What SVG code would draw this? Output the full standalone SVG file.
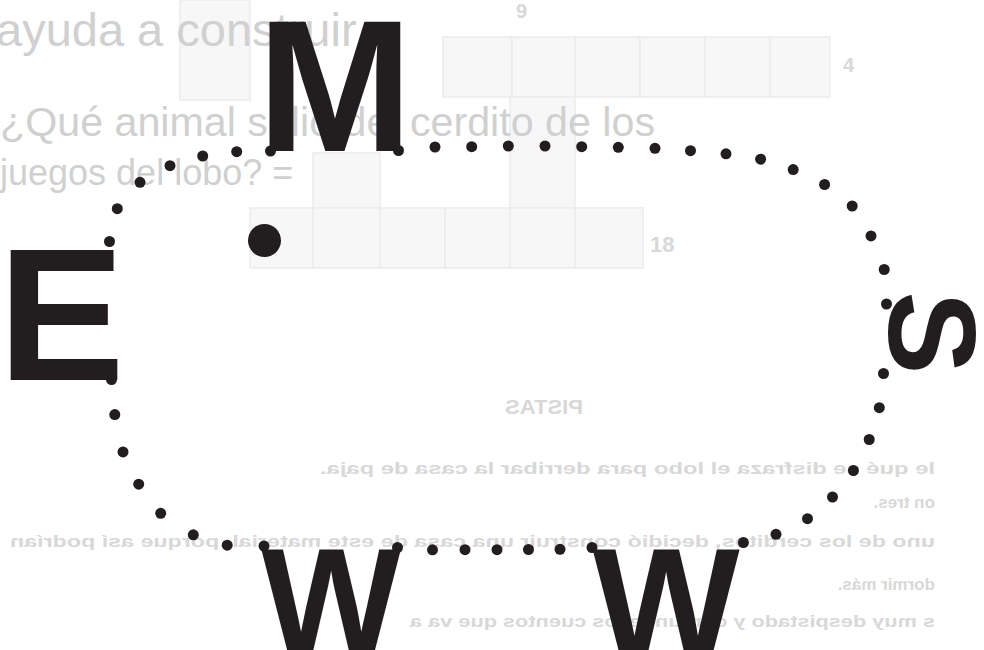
<svg xmlns="http://www.w3.org/2000/svg" width="984" height="650" viewBox="0 0 984 650">
<style>
.L{font-family:"Liberation Sans",Arial,Helvetica,sans-serif;font-weight:bold;fill:#221e1f}
.d{fill:#221e1f}
.bt{font-family:"Liberation Sans",Arial,sans-serif;fill:#d0d0d0}
.bb{font-family:"Liberation Sans",Arial,sans-serif;font-weight:bold;fill:#d8d8d8}
.g{fill:#f7f7f7;stroke:#ececec;stroke-width:1.5}
</style>
<rect width="984" height="650" fill="#ffffff"/>
<g id="bleed-through">
  <rect class="g" x="180" y="0" width="70" height="100"/>
  <rect class="g" x="443" y="37" width="69" height="60"/>
  <rect class="g" x="512" y="37" width="63" height="60"/>
  <rect class="g" x="575" y="37" width="65" height="60"/>
  <rect class="g" x="640" y="37" width="65" height="60"/>
  <rect class="g" x="705" y="37" width="65" height="60"/>
  <rect class="g" x="770" y="37" width="60" height="60"/>
  <rect class="g" x="510" y="97" width="65" height="111"/>
  <rect class="g" x="313" y="153" width="67" height="55"/>
  <rect class="g" x="250" y="208" width="63" height="60"/>
  <rect class="g" x="313" y="208" width="67" height="60"/>
  <rect class="g" x="380" y="208" width="65" height="60"/>
  <rect class="g" x="445" y="208" width="65" height="60"/>
  <rect class="g" x="510" y="208" width="65" height="60"/>
  <rect class="g" x="575" y="208" width="68" height="60"/>
  <text class="bt" x="-4" y="46" font-size="47">ayuda a construir</text>
  <text class="bt" x="0" y="136" font-size="40" textLength="655" lengthAdjust="spacingAndGlyphs">¿Qué animal salió del cerdito de los</text>
  <text class="bt" x="0" y="185" font-size="36">juegos del lobo? =</text>
  <text class="bb" x="516" y="18" font-size="20">9</text>
  <text class="bb" x="843" y="72" font-size="20">4</text>
  <text class="bb" x="650" y="252" font-size="22">18</text>
  <g transform="scale(-1,1)">
    <text class="bb" x="-583" y="414" font-size="20" textLength="78" lengthAdjust="spacingAndGlyphs">PISTAS</text>
    <text class="bb" x="-935" y="474" font-size="17" textLength="615" lengthAdjust="spacingAndGlyphs">le qué se disfraza el lobo para derribar la casa de paja.</text>
    <text class="bb" x="-935" y="508" font-size="17">on tres.</text>
    <text class="bb" x="-935" y="547" font-size="17" textLength="925" lengthAdjust="spacingAndGlyphs">uno de los cerditos, decidió construir una casa de este material, porque así podrían</text>
    <text class="bb" x="-935" y="590" font-size="17">dormir más.</text>
    <text class="bb" x="-935" y="627" font-size="17" textLength="525" lengthAdjust="spacingAndGlyphs">s muy despistado y confunde los cuentos que va a</text>
  </g>
</g>
<g id="dotted-oval">
  <circle class="d" r="5.5" cx="109.5" cy="241.5"/>
  <circle class="d" r="5.5" cx="117.3" cy="208.7"/>
  <circle class="d" r="5.5" cx="140" cy="182.3"/>
  <circle class="d" r="5.5" cx="170" cy="165.7"/>
  <circle class="d" r="5.5" cx="202.7" cy="156"/>
  <circle class="d" r="5.5" cx="236.7" cy="151.7"/>
  <circle class="d" r="5.5" cx="270.5" cy="151"/>
  <circle class="d" r="5.5" cx="398.5" cy="150.5"/>
  <circle class="d" r="5.5" cx="435" cy="147"/>
  <circle class="d" r="5.5" cx="471.7" cy="146.7"/>
  <circle class="d" r="5.5" cx="508.3" cy="146"/>
  <circle class="d" r="5.5" cx="545" cy="146"/>
  <circle class="d" r="5.5" cx="581.7" cy="146.7"/>
  <circle class="d" r="5.5" cx="618.3" cy="147.3"/>
  <circle class="d" r="5.5" cx="655" cy="148.3"/>
  <circle class="d" r="5.5" cx="690.5" cy="150.7"/>
  <circle class="d" r="5.5" cx="726" cy="153.8"/>
  <circle class="d" r="5.5" cx="760.6" cy="159.2"/>
  <circle class="d" r="5.5" cx="793.2" cy="169.6"/>
  <circle class="d" r="5.5" cx="824.6" cy="184.5"/>
  <circle class="d" r="5.5" cx="852.2" cy="206"/>
  <circle class="d" r="5.5" cx="871" cy="235.9"/>
  <circle class="d" r="5.5" cx="884.2" cy="269.5"/>
  <circle class="d" r="5.5" cx="886.5" cy="304"/>
  <circle class="d" r="5.5" cx="883.5" cy="373.5"/>
  <circle class="d" r="5.5" cx="879.3" cy="407.7"/>
  <circle class="d" r="5.5" cx="869.2" cy="439.5"/>
  <circle class="d" r="5.5" cx="853.4" cy="470.5"/>
  <circle class="d" r="5.5" cx="832.5" cy="497"/>
  <circle class="d" r="5.5" cx="807.5" cy="518.7"/>
  <circle class="d" r="5.5" cx="776" cy="534.3"/>
  <circle class="d" r="5.5" cx="743.4" cy="542.5"/>
  <circle class="d" r="5.5" cx="592" cy="547.5"/>
  <circle class="d" r="5.5" cx="560" cy="549.3"/>
  <circle class="d" r="5.5" cx="528.5" cy="549.5"/>
  <circle class="d" r="5.5" cx="497" cy="549.7"/>
  <circle class="d" r="5.5" cx="465" cy="549.7"/>
  <circle class="d" r="5.5" cx="432.5" cy="549.8"/>
  <circle class="d" r="5.5" cx="397.5" cy="547.5"/>
  <circle class="d" r="5.5" cx="264" cy="546"/>
  <circle class="d" r="5.5" cx="227.2" cy="545.2"/>
  <circle class="d" r="5.5" cx="193.3" cy="534.8"/>
  <circle class="d" r="5.5" cx="160.7" cy="513.3"/>
  <circle class="d" r="5.5" cx="138.7" cy="484.2"/>
  <circle class="d" r="5.5" cx="123" cy="451.9"/>
  <circle class="d" r="5.5" cx="114.8" cy="414.6"/>
  <circle class="d" r="5.5" cx="111.5" cy="379.5"/>
</g>
<g id="center-dot"><circle class="d" cx="264.5" cy="240.5" r="16.5"/></g>
<g id="letter-M"><text class="L" x="335" y="151" font-size="187" text-anchor="middle">M</text></g>
<g id="letter-E"><text class="L" x="-2" y="380" font-size="190">E</text></g>
<g id="letter-W-left"><text class="L" x="331" y="652" font-size="148" text-anchor="middle">W</text></g>
<g id="letter-W-right"><text class="L" x="666" y="657" font-size="156" text-anchor="middle">W</text></g>
<g id="letter-S"><text class="L" transform="translate(933.5,333) rotate(90)" x="0" y="44.75" font-size="125" text-anchor="middle">S</text></g>
</svg>
